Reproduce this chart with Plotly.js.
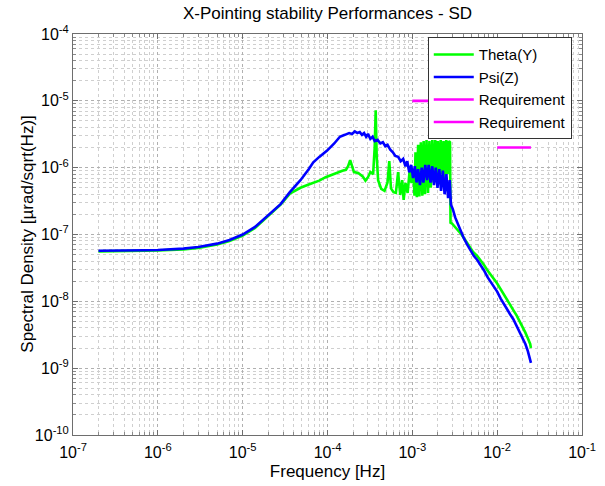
<!DOCTYPE html>
<html>
<head>
<meta charset="utf-8">
<script src="https://cdn.plot.ly/plotly-3.0.1.min.js"></script>
<style>html,body{margin:0;padding:0;background:#fff;}#chart{width:605px;height:486px;}</style>
</head>
<body>
<div id="chart"></div>
<script>
// Psi(Z) - blue
const psiFreq = [2e-7, 3e-7, 5e-7, 7e-7, 1e-6, 1.5e-6, 2e-6, 3e-6, 4e-6, 5e-6, 7e-6, 1e-5, 1.4e-5, 2e-5, 2.8e-5, 3.6e-5, 4.8e-5, 6e-5, 6.8e-5, 8e-5, 9.9e-5, 1.2e-4, 1.4e-4, 1.6e-4, 1.8e-4, 1.95e-4, 2.1e-4, 2.25e-4, 2.4e-4, 2.55e-4, 2.7e-4, 2.85e-4, 3.0e-4, 3.2e-4, 3.4e-4, 3.6e-4, 3.9e-4, 4.2e-4, 4.5e-4, 4.8e-4, 5.1e-4, 5.5e-4, 5.9e-4, 6.3e-4, 6.8e-4, 7.3e-4, 7.8e-4, 8.3e-4, 8.7e-4, 9.2e-4, 9.7e-4, 1.02e-3, 1.07e-3, 1.12e-3, 1.17e-3, 1.23e-3, 1.29e-3, 1.35e-3, 1.42e-3, 1.49e-3, 1.56e-3, 1.64e-3, 1.72e-3, 1.8e-3, 1.89e-3, 1.98e-3, 2.08e-3, 2.18e-3, 2.29e-3, 2.4e-3, 2.52e-3, 2.64e-3, 2.76e-3, 2.85e-3, 3.0e-3, 3.2e-3, 3.4e-3, 3.7e-3, 4.0e-3, 4.4e-3, 4.8e-3, 5.3e-3, 5.8e-3, 6.3e-3, 7.0e-3, 7.7e-3, 8.5e-3, 9.3e-3, 1.0e-2, 1.1e-2, 1.2e-2, 1.3e-2, 1.42e-2, 1.55e-2, 1.7e-2, 1.85e-2, 2.0e-2, 2.15e-2, 2.3e-2, 2.45e-2, 2.5e-2];
const psiVal = [5.7e-8, 5.7e-8, 5.75e-8, 5.8e-8, 5.85e-8, 6.0e-8, 6.15e-8, 6.5e-8, 6.9e-8, 7.3e-8, 8.3e-8, 1.0e-7, 1.3e-7, 1.95e-7, 2.85e-7, 4.3e-7, 6.5e-7, 9.5e-7, 1.2e-6, 1.45e-6, 1.8e-6, 2.3e-6, 2.9e-6, 3.1e-6, 3.3e-6, 3.2e-6, 3.5e-6, 3.3e-6, 3.4e-6, 3.1e-6, 3.3e-6, 2.9e-6, 3.2e-6, 2.7e-6, 2.9e-6, 2.5e-6, 2.6e-6, 2.3e-6, 2.4e-6, 2.1e-6, 2.2e-6, 1.85e-6, 1.7e-6, 1.5e-6, 1.45e-6, 1.25e-6, 1.35e-6, 1.05e-6, 1.25e-6, 8.5e-7, 1.1e-6, 7e-7, 1.05e-6, 6e-7, 9.5e-7, 5.5e-7, 1.0e-6, 6e-7, 1.1e-6, 6.5e-7, 1.1e-6, 6e-7, 1.05e-6, 5.5e-7, 1.0e-6, 5e-7, 9.5e-7, 4.5e-7, 9e-7, 4e-7, 8e-7, 3.5e-7, 6.5e-7, 2.8e-7, 2.4e-7, 1.8e-7, 1.5e-7, 1.1e-7, 9.1e-8, 7.2e-8, 6.0e-8, 4.8e-8, 4.2e-8, 3.6e-8, 2.9e-8, 2.3e-8, 1.9e-8, 1.6e-8, 1.4e-8, 1.1e-8, 9.0e-9, 7.6e-9, 6.4e-9, 5.4e-9, 4.3e-9, 3.5e-9, 2.8e-9, 2.3e-9, 1.8e-9, 1.4e-9, 1.2e-9];

// Theta(Y) - green
const thetaFreq = [2e-7, 3e-7, 5e-7, 7e-7, 1e-6, 1.5e-6, 2e-6, 3e-6, 4e-6, 5e-6, 7e-6, 1e-5, 1.4e-5, 2e-5, 2.8e-5, 3.6e-5, 4.8e-5, 6e-5, 6.8e-5, 8e-5, 9.5e-5, 1.1e-4, 1.3e-4, 1.5e-4, 1.65e-4, 1.75e-4, 1.85e-4, 1.95e-4, 2.05e-4, 2.3e-4, 2.6e-4, 2.8e-4, 3.0e-4, 3.2e-4, 3.45e-4, 3.6e-4, 3.7e-4, 3.8e-4, 3.95e-4, 4.3e-4, 4.7e-4, 5.1e-4, 5.35e-4, 5.6e-4, 6.0e-4, 6.4e-4, 6.8e-4, 7.2e-4, 7.6e-4, 7.9e-4, 8.3e-4, 8.8e-4, 9.3e-4, 9.8e-4, 1.03e-3, 1.06e-3, 1.09e-3, 1.13e-3, 1.17e-3, 1.21e-3, 1.26e-3, 1.31e-3, 1.36e-3, 1.41e-3, 1.47e-3, 1.53e-3, 1.59e-3, 1.65e-3, 1.72e-3, 1.79e-3, 1.86e-3, 1.93e-3, 2.0e-3, 2.08e-3, 2.16e-3, 2.24e-3, 2.33e-3, 2.42e-3, 2.51e-3, 2.6e-3, 2.7e-3, 2.78e-3, 2.82e-3, 2.95e-3, 3.2e-3, 3.5e-3, 3.8e-3, 4.2e-3, 4.7e-3, 5.2e-3, 5.8e-3, 6.3e-3, 7.0e-3, 7.7e-3, 8.5e-3, 9.3e-3, 1.0e-2, 1.1e-2, 1.2e-2, 1.3e-2, 1.42e-2, 1.55e-2, 1.7e-2, 1.85e-2, 2.0e-2, 2.15e-2, 2.3e-2, 2.45e-2, 2.5e-2];
const thetaVal = [5.6e-8, 5.6e-8, 5.65e-8, 5.7e-8, 5.75e-8, 5.85e-8, 6.0e-8, 6.3e-8, 6.7e-8, 7.1e-8, 8.0e-8, 9.6e-8, 1.25e-7, 1.9e-7, 2.8e-7, 4.1e-7, 5.0e-7, 5.6e-7, 5.9e-7, 6.4e-7, 7.2e-7, 7.8e-7, 8.5e-7, 9.0e-7, 9.3e-7, 1.05e-6, 1.3e-6, 1.0e-6, 8.6e-7, 8.3e-7, 7.4e-7, 6.4e-7, 7.2e-7, 8.6e-7, 8.0e-7, 2.0e-6, 7.2e-6, 1.5e-6, 6.5e-7, 4.8e-7, 4.5e-7, 6.0e-7, 1.25e-6, 4.9e-7, 4.3e-7, 4.2e-7, 8.6e-7, 3.9e-7, 6.5e-7, 3.3e-7, 5.9e-7, 4.2e-7, 9.0e-7, 5.9e-7, 9e-7, 3.8e-7, 1.7e-6, 3.6e-7, 2.2e-6, 3.7e-7, 2.4e-6, 3.8e-7, 2.5e-6, 4.0e-7, 2.6e-6, 4.2e-7, 2.5e-6, 5e-7, 2.6e-6, 6e-7, 2.6e-6, 7e-7, 2.5e-6, 8e-7, 2.6e-6, 8e-7, 2.5e-6, 7e-7, 2.6e-6, 8e-7, 2.5e-6, 2.4e-6, 1.5e-7, 1.45e-7, 1.3e-7, 1.15e-7, 1.0e-7, 8.3e-8, 6.6e-8, 5.5e-8, 4.8e-8, 4.2e-8, 3.5e-8, 2.9e-8, 2.4e-8, 2.1e-8, 1.85e-8, 1.5e-8, 1.25e-8, 1.05e-8, 8.8e-9, 7.4e-9, 6.1e-9, 5.0e-9, 4.1e-9, 3.4e-9, 2.8e-9, 2.3e-9, 2.0e-9];

// Requirements
const req1Freq = [1e-3, 2.5e-3];
const req1Val = [1e-5, 1e-5];
const req2Freq = [1e-2, 2.5e-2];
const req2Val = [2e-6, 2e-6];

const seriesNames = ['Theta(Y)', 'Psi(Z)', 'Requirement', 'Requirement'];

// Tick labels
const xTickVals = [1e-7, 1e-6, 1e-5, 1e-4, 1e-3, 1e-2, 1e-1];
const xTickText = ['10<sup>-7</sup>', '10<sup>-6</sup>', '10<sup>-5</sup>', '10<sup>-4</sup>', '10<sup>-3</sup>', '10<sup>-2</sup>', '10<sup>-1</sup>'];
const yTickVals = [1e-10, 1e-9, 1e-8, 1e-7, 1e-6, 1e-5, 1e-4];
const yTickText = ['10<sup>-10</sup>', '10<sup>-9</sup>', '10<sup>-8</sup>', '10<sup>-7</sup>', '10<sup>-6</sup>', '10<sup>-5</sup>', '10<sup>-4</sup>'];

const traces = [
  {x: thetaFreq, y: thetaVal, name: seriesNames[0], mode: 'lines', line: {color: '#00ff00', width: 2.6}},
  {x: psiFreq, y: psiVal, name: seriesNames[1], mode: 'lines', line: {color: '#0000ff', width: 2.6}},
  {x: req1Freq, y: req1Val, name: seriesNames[2], mode: 'lines', line: {color: '#ff00ff', width: 2.6}},
  {x: req2Freq, y: req2Val, name: seriesNames[3], mode: 'lines', line: {color: '#ff00ff', width: 2.6}}
];

const fontFam = 'Liberation Sans, Arial, sans-serif';
const axisCommon = {
  type: 'log', tickmode: 'array',
  showline: true, linecolor: '#6e6e6e', linewidth: 1, mirror: 'allticks',
  ticks: 'inside', ticklen: 5, tickcolor: '#6e6e6e',
  showgrid: true, gridcolor: '#b0b0b0', griddash: 'dot', gridwidth: 1,
  zeroline: false,
  tickfont: {family: fontFam, size: 16, color: '#000'},
  minor: {dtick: 'D1', showgrid: true, gridcolor: '#cfcfcf', griddash: 'dot', gridwidth: 1, ticks: 'inside', ticklen: 3, tickcolor: '#8a8a8a'}
};

const layout = {
  width: 605, height: 486,
  margin: {l: 73, r: 23, t: 34, b: 51},
  paper_bgcolor: '#fff', plot_bgcolor: '#fff',
  font: {family: fontFam, size: 16, color: '#000'},
  title: {text: 'X-Pointing stability Performances - SD', font: {family: fontFam, size: 17, color: '#000'}, x: 0.5, xref: 'paper', xanchor: 'center', y: 0.985, yref: 'container', yanchor: 'top'},
  xaxis: Object.assign({}, axisCommon, {range: [-7, -1], tickvals: xTickVals, ticktext: xTickText, ticklabelstandoff: 3, title: {text: 'Frequency [Hz]', font: {family: fontFam, size: 17}, standoff: 4}}),
  yaxis: Object.assign({}, axisCommon, {range: [-10, -4], tickvals: yTickVals, ticktext: yTickText}),
  annotations: [{text: 'Spectral Density [µrad/sqrt(Hz)]', textangle: -90, xref: 'paper', yref: 'paper', x: -0.09, y: 0.5, xanchor: 'center', yanchor: 'middle', showarrow: false, font: {family: fontFam, size: 17, color: '#000'}}],
  showlegend: true,
  legend: {x: 0.697, y: 0.992, xanchor: 'left', yanchor: 'top', bgcolor: '#fff', bordercolor: '#333', borderwidth: 1, font: {family: fontFam, size: 15, color: '#000'}, itemwidth: 40, tracegroupgap: 0}
};

Plotly.newPlot('chart', traces, layout, {displayModeBar: false, staticPlot: true});
</script>
</body>
</html>
